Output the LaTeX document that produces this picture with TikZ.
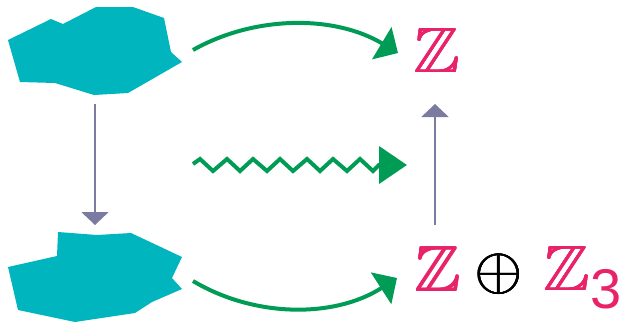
\documentclass[tikz,border=0pt]{standalone}
\usepackage{amssymb}
\usepackage{fontspec}
\newfontfamily\digitfont{Liberation Sans}
\usetikzlibrary{arrows.meta}
\definecolor{blobteal}{RGB}{0,181,190}
\definecolor{arrgreen}{RGB}{0,155,85}
\definecolor{arrgrey}{RGB}{123,122,160}
\definecolor{zpink}{RGB}{232,35,105}
\newcommand{\heavyglyph}[1]{%
  \rlap{\hspace{0.08pt}#1}%
  \rlap{\hspace{0.16pt}#1}%
  \rlap{\raisebox{0.08pt}{#1}}%
  \rlap{\hspace{0.08pt}\raisebox{0.08pt}{#1}}%
  \rlap{\hspace{0.16pt}\raisebox{0.08pt}{#1}}%
  #1}
\tikzset{
  blob/.style={fill=blobteal, draw=none},
  maparrow/.style={draw=arrgreen, line width=4pt, -{Triangle[length=19pt,width=37pt]}},
  squiggle/.style={draw=arrgreen, line width=4pt, miter limit=10, -{Triangle[length=28pt,width=37pt]}},
  vertarrow/.style={draw=arrgrey, line width=2pt, -{Triangle[length=13pt,width=27pt]}},
  bb/.style={text=zpink, inner sep=0pt, xscale=6.9, yscale=6.4},
  opl/.style={text=black, inner sep=0pt, scale=6.1},
  sub/.style={text=zpink, inner sep=0pt, font=\digitfont\fontsize{56}{60}\selectfont}
}
\begin{document}
\begin{tikzpicture}[x=1pt,y=-1pt]
\useasboundingbox (0,0) rectangle (620,322);
% blobs
\path[blob] (8,40) -- (51,19) -- (63,24) -- (96,7) -- (133,7) -- (164,18) -- (171,52) -- (182,62) -- (128,93) -- (94,95) -- (55,83) -- (20,82) -- cycle;
\path[blob] (8,267) -- (57,256) -- (58,232) -- (97,235) -- (131,233) -- (182,257) -- (172,278) -- (182,289) -- (152,302) -- (135,313) -- (75,322) -- (18,310) -- cycle;
% named anchor points of the blobs
\coordinate (topblobR) at (193,50);
\coordinate (topblobB) at (95,104);
\coordinate (botblobT) at (95,225);
\coordinate (botblobR) at (193,281);
% texts
\node[bb] (Ztop) at (436.5,50.5) {\heavyglyph{$\mathbb{Z}$}};
\node[bb] (Zbot) at (437,269) {\heavyglyph{$\mathbb{Z}$}};
\node[opl] (plus) at (498.7,274.3) {\heavyglyph{$\oplus$}};
\node[bb] (Zthree) at (566,268.5) {\heavyglyph{$\mathbb{Z}$}};
\node[sub, anchor=base west] (three) at (590,308) {3};
% coordinates for arrow ends
\coordinate (ZtopIn) at (398,53);
\coordinate (ZbotIn) at (397,278);
\coordinate (ZtopB) at (435,104);
\coordinate (ZbotT) at (435,225);
\coordinate (sqS) at (193,164);
\coordinate (sqE) at (407,165);
% arrows
\draw[maparrow] (topblobR) .. controls (255,15) and (335,15) .. (ZtopIn);
\draw[maparrow] (botblobR) .. controls (255,318) and (335,318) .. (ZbotIn);
\draw[vertarrow] (topblobB) -- (botblobT);
\draw[vertarrow] (ZbotT) -- (ZtopB);
\draw[squiggle] (sqS) -- (200,159) -- (213,171) -- (227,159) -- (240,171) -- (253,159) -- (267,171) -- (280,159) -- (293,171) -- (307,159) -- (320,171) -- (333,159) -- (347,171) -- (360,159) -- (373,171) -- (379,165) -- (sqE);
\end{tikzpicture}
\end{document}
